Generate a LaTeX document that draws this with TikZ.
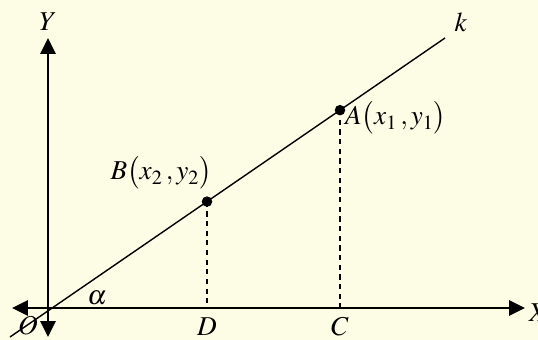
\documentclass[tikz,border=0pt]{standalone}
\usepackage{mathptmx}
\usetikzlibrary{arrows.meta, calc}
\definecolor{bgPaper}{HTML}{FDFDE6}
\tikzset{
    axisLine/.style={
        line width=1.4pt,
        {Triangle[length=9pt, width=8.5pt]}-{Triangle[length=9pt, width=8.5pt]}
    },
    kLine/.style={line width=0.8pt},
    dropLine/.style={line width=0.8pt, dash pattern=on 3pt off 2.5pt},
    ptDot/.style={circle, fill=black, inner sep=0pt, minimum size=6pt},
    lbl/.style={font=\fontsize{15.5}{18}\selectfont, inner sep=1pt}
}

\begin{document}
\begin{tikzpicture}[x=0.02cm, y=0.02cm]

% frame
\fill[bgPaper] (-48,-32) rectangle (490,308);
\useasboundingbox (-48,-32) rectangle (490,308);

% axes
\coordinate (O) at (0,0);
\coordinate (xLeft)  at (-36,0);
\coordinate (xRight) at (477,0);
\coordinate (yDown)  at (0,-29);
\coordinate (yUp)    at (0,270);
\draw[axisLine] (xLeft) -- (xRight);
\draw[axisLine] (yDown) -- (yUp);

% line k
\coordinate (kStart) at (-38,-29);
\coordinate (kEnd)   at (397,270);
\draw[kLine] (kStart) -- (kEnd);

% points
\node[ptDot] (A) at ($(kStart)!0.7586!(kEnd)$) {};
\node[ptDot] (B) at ($(kStart)!0.4529!(kEnd)$) {};
\coordinate (C) at (A |- O);
\coordinate (D) at (B |- O);
\draw[dropLine] (A.center) -- (C);
\draw[dropLine] (B.center) -- (D);

% labels
\node[lbl] (labY) at (0,286) {$Y$};
\node[lbl, anchor=west] (labX) at (479,-5) {$X$};
\node[lbl] (labK) at (413,286) {$k$};
\node[lbl] (labO) at (-20,-18) {$O$};
\node[lbl] (labAlpha) at (49,10) {$\alpha$};
\node[lbl] (labC) at ($(C)+(0,-19)$) {$C$};
\node[lbl] (labD) at ($(D)+(0,-19)$) {$D$};
\node[lbl, anchor=west] (labA) at ($(A)+(3,-8)$) {$A\bigl(x_1\,, y_1\bigr)$};
\node[lbl, anchor=south east] (labB) at ($(B)+(7,10)$) {$B\bigl(x_2\,, y_2\bigr)$};

\end{tikzpicture}
\end{document}
